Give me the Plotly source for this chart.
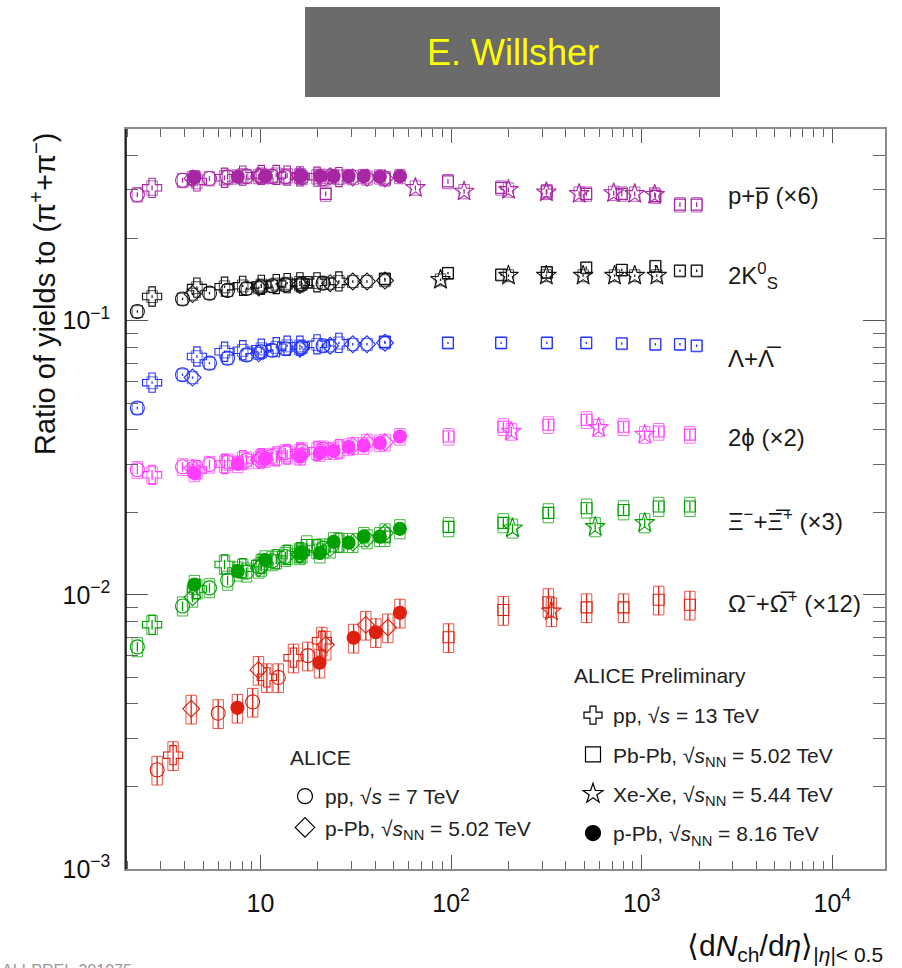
import plotly.graph_objects as go

FONT = "Liberation Sans, Arial, Helvetica, sans-serif"

# ---------------- multiplicity classes <dNch/deta> ----------------
X_PP7 = [2.26, 3.90, 5.40, 6.72, 8.45, 10.1, 11.5, 13.5, 16.5, 21.3]
X_PP13 = [2.7, 4.64, 6.48, 8.07, 10.1, 12.1, 13.8, 16.1, 19.8, 25.8]
X_PPB5 = [4.4, 9.8, 16.1, 23.2, 30.5, 36.2, 45.0]
X_PPB8 = [4.5, 7.6, 10.6, 16.2, 20.5, 24.2, 29.0, 34.8, 42.3, 53.9]
X_PBPB = [17.5, 44.9, 96.3, 183, 318, 512, 786, 1180, 1587, 1943]
X_PBPB_MERGED = [97, 188, 324, 514, 803, 1228, 1790]

# ---------------- p+p (x6) ----------------
P_PP7 = [0.288, 0.325, 0.330, 0.334, 0.336, 0.337, 0.336, 0.335, 0.333, 0.330]
P_PP13 = [0.305, 0.322, 0.332, 0.338, 0.340, 0.340, 0.338, 0.336, 0.335, 0.334]
P_PPB5 = [0.330, 0.336, 0.338, 0.336, 0.333, 0.332, 0.330]
P_PPB8 = [0.333, 0.335, 0.336, 0.337, 0.337, 0.336, 0.336, 0.336, 0.335, 0.336]
P_PBPB_X = [22, 44.9, 96.3, 183, 318, 512, 786, 1180, 1587, 1943]
P_PBPB = [0.290, 0.330, 0.322, 0.305, 0.296, 0.290, 0.290, 0.285, 0.265, 0.265]
P_XEXE_X = [65, 117, 200, 316, 470, 713, 919, 1170]
P_XEXE = [0.305, 0.296, 0.300, 0.294, 0.290, 0.292, 0.290, 0.288]

# ---------------- 2K0S ----------------
K_PP7 = [0.108, 0.120, 0.126, 0.129, 0.131, 0.133, 0.134, 0.135, 0.136, 0.137]
K_PP13 = [0.1225, 0.132, 0.133, 0.134, 0.135, 0.136, 0.137, 0.138, 0.138, 0.139]
K_PPB5 = [0.125, 0.132, 0.135, 0.137, 0.139, 0.139, 0.140]
K_PBPB = [0.138, 0.142, 0.149, 0.147, 0.150, 0.156, 0.153, 0.158, 0.152, 0.152]
K_XEXE_X = [88, 200, 316, 493, 720, 919, 1200]
K_XEXE = [0.141, 0.146, 0.146, 0.146, 0.146, 0.146, 0.146]

# ---------------- Lambda ----------------
L_PP7 = [0.048, 0.0635, 0.070, 0.073, 0.075, 0.077, 0.078, 0.079, 0.080, 0.081]
L_PP13 = [0.0594, 0.074, 0.077, 0.078, 0.079, 0.080, 0.081, 0.081, 0.082, 0.083]
L_PPB5 = [0.062, 0.076, 0.079, 0.081, 0.082, 0.082, 0.083]
L_PBPB_X = [44.9, 96.3, 183, 318, 512, 786, 1180, 1587, 1943]
L_PBPB = [0.0837, 0.083, 0.083, 0.083, 0.083, 0.0825, 0.082, 0.082, 0.081]

# ---------------- 2phi (x2) ----------------
F_PP7 = [0.0286, 0.0293, 0.0299, 0.0305, 0.031, 0.0316, 0.032, 0.033, 0.0335, 0.034]
F_PP13 = [0.0274, 0.0285, 0.030, 0.031, 0.0315, 0.032, 0.0325, 0.033, 0.0335, 0.034]
F_PPB5 = [0.029, 0.031, 0.032, 0.0335, 0.035, 0.036, 0.036]
F_PPB8 = [0.0278, 0.030, 0.0314, 0.032, 0.033, 0.0335, 0.0346, 0.035, 0.0358, 0.0378]
F_PBPB = [0.0378, 0.041, 0.0417, 0.0435, 0.041, 0.0394, 0.0384]
F_XEXE_X = [207, 594, 1037]
F_XEXE = [0.0394, 0.0407, 0.0384]

# ---------------- Xi (x3) ----------------
XI_PP7 = [0.00646, 0.0091, 0.0106, 0.0113, 0.0121, 0.0127, 0.0133, 0.0138, 0.0142, 0.0148]
XI_PP13 = [0.00778, 0.0105, 0.0129, 0.0125, 0.0130, 0.0135, 0.0140, 0.0143, 0.0147, 0.0155]
XI_PPB5 = [0.0098, 0.0125, 0.0140, 0.0148, 0.0155, 0.0160, 0.0168]
XI_PPB8 = [0.0109, 0.0122, 0.0134, 0.0142, 0.0142, 0.0156, 0.0155, 0.0163, 0.0163, 0.0174]
XI_PBPB_X = [17.5, 44.9, 97, 188, 324, 514, 803, 1228, 1790]
XI_PBPB = [0.0152, 0.0163, 0.0177, 0.0183, 0.0199, 0.0207, 0.0204, 0.0210, 0.0210]
XI_XEXE_X = [210, 570, 1037]
XI_XEXE = [0.0175, 0.0177, 0.0183]

# ---------------- Omega (x12) ----------------
O_PP7_X = [2.87, 6.0, 9.1, 12.4, 17.7]
O_PP7 = [0.0023, 0.0037, 0.00407, 0.0050, 0.0060]
O_PP13_X = [3.48, 10.8, 14.9, 21.0]
O_PP13 = [0.0026, 0.0050, 0.0059, 0.0068]
O_PPB5_X = [4.33, 9.76, 22.0, 35.7, 46.6]
O_PPB5 = [0.00384, 0.00532, 0.00657, 0.00777, 0.0076]
O_PPB8_X = [7.57, 20.4, 30.8, 40.3, 53.9]
O_PPB8 = [0.00387, 0.00565, 0.00697, 0.0073, 0.0086]
O_PBPB = [0.0070, 0.0088, 0.0094, 0.0090, 0.0090, 0.0096, 0.0092]
O_XEXE_X = [336]
O_XEXE = [0.0087]

# relative uncertainties (stat, syst)
UNC = {"p": (0.02, 0.06), "K": (0.01, 0.05), "L": (0.01, 0.05),
       "F": (0.04, 0.07), "XI": (0.04, 0.08), "O": (0.12, 0.12)}

SPECIES = [
    ("p", "#a626a4", "p+p\u0305 (\u00d76)", {
        "pp7": (X_PP7, P_PP7), "ppb5": (X_PPB5, P_PPB5), "pp13": (X_PP13, P_PP13),
        "pbpb": (P_PBPB_X, P_PBPB), "xexe": (P_XEXE_X, P_XEXE), "ppb8": (X_PPB8, P_PPB8)}),
    ("K", "#111111", "2K<sup>0</sup><sub>S</sub>", {
        "pp7": (X_PP7, K_PP7), "ppb5": (X_PPB5, K_PPB5), "pp13": (X_PP13, K_PP13),
        "pbpb": (X_PBPB, K_PBPB), "xexe": (K_XEXE_X, K_XEXE)}),
    ("L", "#2233ff", "\u039b+\u039b\u0305", {
        "pp7": (X_PP7, L_PP7), "ppb5": (X_PPB5, L_PPB5), "pp13": (X_PP13, L_PP13),
        "pbpb": (L_PBPB_X, L_PBPB)}),
    ("F", "#ff3dff", "2\u03d5 (\u00d72)", {
        "pp7": (X_PP7, F_PP7), "ppb5": (X_PPB5, F_PPB5), "pp13": (X_PP13, F_PP13),
        "pbpb": (X_PBPB_MERGED, F_PBPB), "xexe": (F_XEXE_X, F_XEXE), "ppb8": (X_PPB8, F_PPB8)}),
    ("XI", "#00a000", "\u039e<sup>\u2212</sup>+\u039e\u0305<sup>+</sup> (\u00d73)", {
        "pp7": (X_PP7, XI_PP7), "ppb5": (X_PPB5, XI_PPB5), "pp13": (X_PP13, XI_PP13),
        "pbpb": (XI_PBPB_X, XI_PBPB), "xexe": (XI_XEXE_X, XI_XEXE), "ppb8": (X_PPB8, XI_PPB8)}),
    ("O", "#dd2010", "\u03a9<sup>\u2212</sup>+\u03a9\u0305<sup>+</sup> (\u00d712)", {
        "pp7": (O_PP7_X, O_PP7), "ppb5": (O_PPB5_X, O_PPB5), "pp13": (O_PP13_X, O_PP13),
        "pbpb": (X_PBPB_MERGED, O_PBPB), "xexe": (O_XEXE_X, O_XEXE), "ppb8": (O_PPB8_X, O_PPB8)}),
]

SYSTEM_STYLE = {
    "pp7": ("circle-open", 14),
    "ppb5": ("diamond-open", 13),
    "pp13": ("cross-open", 16),
    "pbpb": ("square-open", 11),
    "xexe": ("star-open", 15),
    "ppb8": ("circle", 13),
}
ORDER = ["pp7", "ppb5", "pp13", "pbpb", "xexe", "ppb8"]
BOX_F = 1.065

fig = go.Figure()

# systematic boxes
for key, color, label, data in SPECIES:
    stat, syst = UNC[key]
    bx, by = [], []
    for sysname in ORDER:
        if sysname not in data:
            continue
        xs, ys = data[sysname]
        for x, y in zip(xs, ys):
            bx += [x / BOX_F, x * BOX_F, x * BOX_F, x / BOX_F, x / BOX_F, None]
            by += [y * (1 - syst), y * (1 - syst), y * (1 + syst), y * (1 + syst), y * (1 - syst), None]
    fig.add_trace(go.Scatter(x=bx, y=by, mode="lines", line=dict(color=color, width=1),
                             opacity=0.75, showlegend=False, hoverinfo="skip"))

# markers with statistical error bars
for key, color, label, data in SPECIES:
    stat, syst = UNC[key]
    for sysname in ORDER:
        if sysname not in data:
            continue
        xs, ys = data[sysname]
        sym, size = SYSTEM_STYLE[sysname]
        fig.add_trace(go.Scatter(
            x=xs, y=ys, mode="markers",
            marker=dict(symbol=sym, size=size, color=color, line=dict(color=color, width=1.1)),
            error_y=dict(type="percent", value=stat * 100, color=color, thickness=1.3, width=0),
            showlegend=False))

# legend-only entries
LEG1 = [("pp, \u221a<i>s</i> = 13 TeV", "cross-open"),
        ("Pb-Pb, \u221a<i>s</i><sub>NN</sub> = 5.02 TeV", "square-open"),
        ("Xe-Xe, \u221a<i>s</i><sub>NN</sub> = 5.44 TeV", "star-open"),
        ("p-Pb, \u221a<i>s</i><sub>NN</sub> = 8.16 TeV", "circle")]
LEG2 = [("pp, \u221a<i>s</i> = 7 TeV", "circle-open"),
        ("p-Pb, \u221a<i>s</i><sub>NN</sub> = 5.02 TeV", "diamond-open")]
for i, (name, sym) in enumerate(LEG1):
    fig.add_trace(go.Scatter(x=[None], y=[None], mode="markers", name=name, legend="legend",
                             legendgroup="a%d" % i,
                             marker=dict(symbol=sym, size=15, color="black", line=dict(color="black", width=1.2))))
for i, (name, sym) in enumerate(LEG2):
    fig.add_trace(go.Scatter(x=[None], y=[None], mode="markers", name=name, legend="legend2",
                             legendgroup="b%d" % i,
                             marker=dict(symbol=sym, size=15, color="black", line=dict(color="black", width=1.2))))

# plot area in pixels: left 126, right 885, top 129, bottom 869
W, H = 902, 968
L_, R_, T_, B_ = 126, 885, 129, 869


def px2paper_x(px):
    return (px - L_) / (R_ - L_)


def px2paper_y(py):
    return 1 - (py - T_) / (B_ - T_)


annotations = []
LABEL_Y = [196, 276, 358, 437, 520, 602]
for (key, color, label, data), py in zip(SPECIES, LABEL_Y):
    annotations.append(dict(text=label, xref="paper", yref="paper", x=px2paper_x(726), y=px2paper_y(py),
                            xanchor="left", yanchor="middle", showarrow=False,
                            font=dict(family=FONT, size=24, color="#1a1a1a")))

annotations += [
    dict(text="E. Willsher", xref="paper", yref="paper", x=px2paper_x(513), y=px2paper_y(53),
         xanchor="center", yanchor="middle", showarrow=False,
         font=dict(family=FONT, size=36, color="#ffff00")),
    dict(text="Ratio of yields to (\u03c0<sup>+</sup>+\u03c0<sup>\u2212</sup>)", xref="paper", yref="paper",
         x=px2paper_x(43), y=px2paper_y(294), xanchor="center", yanchor="middle", textangle=-90,
         showarrow=False, font=dict(family=FONT, size=29, color="#111111")),
    dict(text="\u27e8d<i>N</i><sub>ch</sub>/d<i>\u03b7</i>\u27e9<sub>|<i>\u03b7</i>|< 0.5</sub>",
         xref="paper", yref="paper", x=1.0, y=px2paper_y(947), xanchor="right", yanchor="middle",
         showarrow=False, font=dict(family=FONT, size=30, color="#111111")),
    dict(text="ALI-PREL-301075", xref="paper", yref="paper", x=px2paper_x(0), y=px2paper_y(960),
         xanchor="left", yanchor="top", showarrow=False, font=dict(family=FONT, size=16, color="#999999")),
    dict(text="ALICE Preliminary", xref="paper", yref="paper", x=px2paper_x(572), y=px2paper_y(675),
         xanchor="left", yanchor="middle", showarrow=False, font=dict(family=FONT, size=21, color="#222222")),
    dict(text="ALICE", xref="paper", yref="paper", x=px2paper_x(288), y=px2paper_y(757),
         xanchor="left", yanchor="middle", showarrow=False, font=dict(family=FONT, size=21, color="#222222")),
]

shapes = [
    dict(type="rect", xref="paper", yref="paper", x0=px2paper_x(305), x1=px2paper_x(720),
         y0=px2paper_y(97), y1=px2paper_y(7), fillcolor="#6b6b6b", line=dict(width=0), layer="below"),
    dict(type="line", xref="paper", yref="paper", x0=0, x1=0, y0=0, y1=1,
         line=dict(color="black", width=1.5)),
]

fig.update_layout(
    width=W, height=H,
    margin=dict(l=L_, r=W - R_, t=T_, b=H - B_, autoexpand=False),
    paper_bgcolor="white", plot_bgcolor="white",
    font=dict(family=FONT, color="#111111"),
    showlegend=True,
    annotations=annotations, shapes=shapes,
    legend=dict(x=px2paper_x(573), y=px2paper_y(695), xanchor="left", yanchor="top",
                bgcolor="rgba(0,0,0,0)", tracegroupgap=9,
                font=dict(family=FONT, size=21, color="#222222")),
    legend2=dict(x=px2paper_x(285), y=px2paper_y(776), xanchor="left", yanchor="top",
                 bgcolor="rgba(0,0,0,0)", tracegroupgap=1,
                 font=dict(family=FONT, size=21, color="#222222")),
)

fig.update_xaxes(
    type="log", range=[0.2945, 4.2765], dtick=1, exponentformat="power",
    showgrid=False, zeroline=False, showline=True, linecolor="#8c8c8c", linewidth=1.5, mirror="ticks",
    ticks="inside", ticklen=14, tickcolor="#555555", tickwidth=1.2,
    tickfont=dict(family=FONT, size=20, color="#111111"), ticklabelstandoff=12,
    minor=dict(ticks="inside", ticklen=8, tickcolor="#666666", dtick="D1", showgrid=False),
)
fig.update_yaxes(
    type="log", range=[-3, -0.301], dtick=1, exponentformat="power",
    showgrid=False, zeroline=False, showline=True, linecolor="#8c8c8c", linewidth=1.5, mirror="ticks",
    ticks="inside", ticklen=22, tickcolor="#555555", tickwidth=1.2,
    tickfont=dict(family=FONT, size=20, color="#111111"), ticklabelstandoff=10,
    minor=dict(ticks="inside", ticklen=12, tickcolor="#666666", dtick="D1", showgrid=False),
)

fig.write_html("out.html", config={"displayModeBar": False},
               post_script="document.body.style.margin='0px';document.body.style.overflow='hidden';")
